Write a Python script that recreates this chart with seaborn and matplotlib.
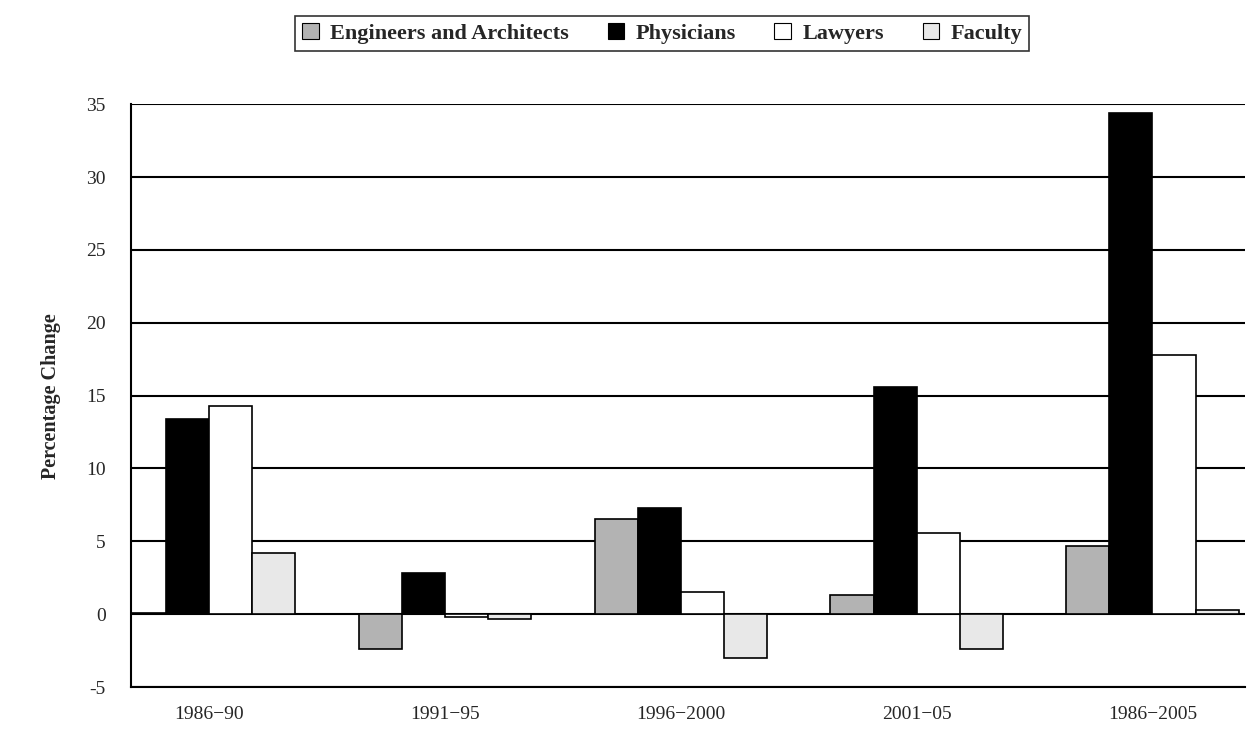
import matplotlib

matplotlib.use("Agg")

import matplotlib.pyplot as plt
import pandas as pd
import seaborn as sns

periods = ["1986\u221290", "1991\u221295", "1996\u22122000", "2001\u221205", "1986\u22122005"]
occupations = ["Engineers and Architects", "Physicians", "Lawyers", "Faculty"]

engineers = [0.1, -2.4, 6.5, 1.3, 4.7]
physicians = [13.4, 2.8, 7.3, 15.6, 34.4]
lawyers = [14.3, -0.2, 1.5, 5.6, 17.8]
faculty = [4.2, -0.3, -3.0, -2.4, 0.3]

colors = ["#b3b3b3", "#000000", "#ffffff", "#e8e8e8"]

yticks = [-5, 0, 5, 10, 15, 20, 25, 30, 35]

rows = []
for occ, values in zip(occupations, [engineers, physicians, lawyers, faculty]):
    for period, v in zip(periods, values):
        rows.append({"period": period, "occupation": occ, "change": v})
df = pd.DataFrame(rows)

sns.set_style("white")
plt.rcParams["font.family"] = ["Liberation Serif", "DejaVu Serif"]

fig = plt.figure(figsize=(12.47, 7.29), dpi=100)
ax = fig.add_axes([0.105, 0.0576, 0.893, 0.7994])

sns.barplot(
    data=df, x="period", y="change", hue="occupation",
    order=periods, hue_order=occupations, palette=colors,
    edgecolor="black", linewidth=1.2, width=0.73, ax=ax, legend=False,
    zorder=3,
)

ax.set_ylim(-5, 35)
ax.set_xlim(-0.33, 4.39)
ax.set_yticks(yticks)
ax.set_yticklabels([str(t) for t in yticks], fontsize=14)
ax.tick_params(axis="x", labelsize=14, length=0, pad=14)
ax.tick_params(axis="y", length=0, pad=18)
for t in yticks:
    ax.axhline(t, color="black", linewidth=1.5, zorder=1)

for side in ["top", "right"]:
    ax.spines[side].set_visible(False)
ax.spines["left"].set_linewidth(1.5)
ax.spines["left"].set_color("black")
ax.spines["bottom"].set_linewidth(1.5)
ax.spines["bottom"].set_color("black")

ax.set_xlabel("")
ax.set_ylabel("Percentage Change", fontsize=14.5, fontweight="bold", labelpad=18)

handles = [plt.Rectangle((0, 0), 1, 1, facecolor=c, edgecolor="black", linewidth=0.8) for c in colors]
leg = fig.legend(
    handles, occupations, loc="center", bbox_to_anchor=(0.531, 0.954), ncol=4,
    frameon=True, fancybox=False, edgecolor="black", handlelength=0.75, handleheight=0.75,
    handletextpad=0.5, columnspacing=1.75, borderpad=0.3, borderaxespad=0,
    prop={"family": ["Liberation Serif", "DejaVu Serif"], "weight": "bold", "size": 16},
)
leg.get_frame().set_linewidth(1.2)

fig.savefig("out.png", dpi=100)
